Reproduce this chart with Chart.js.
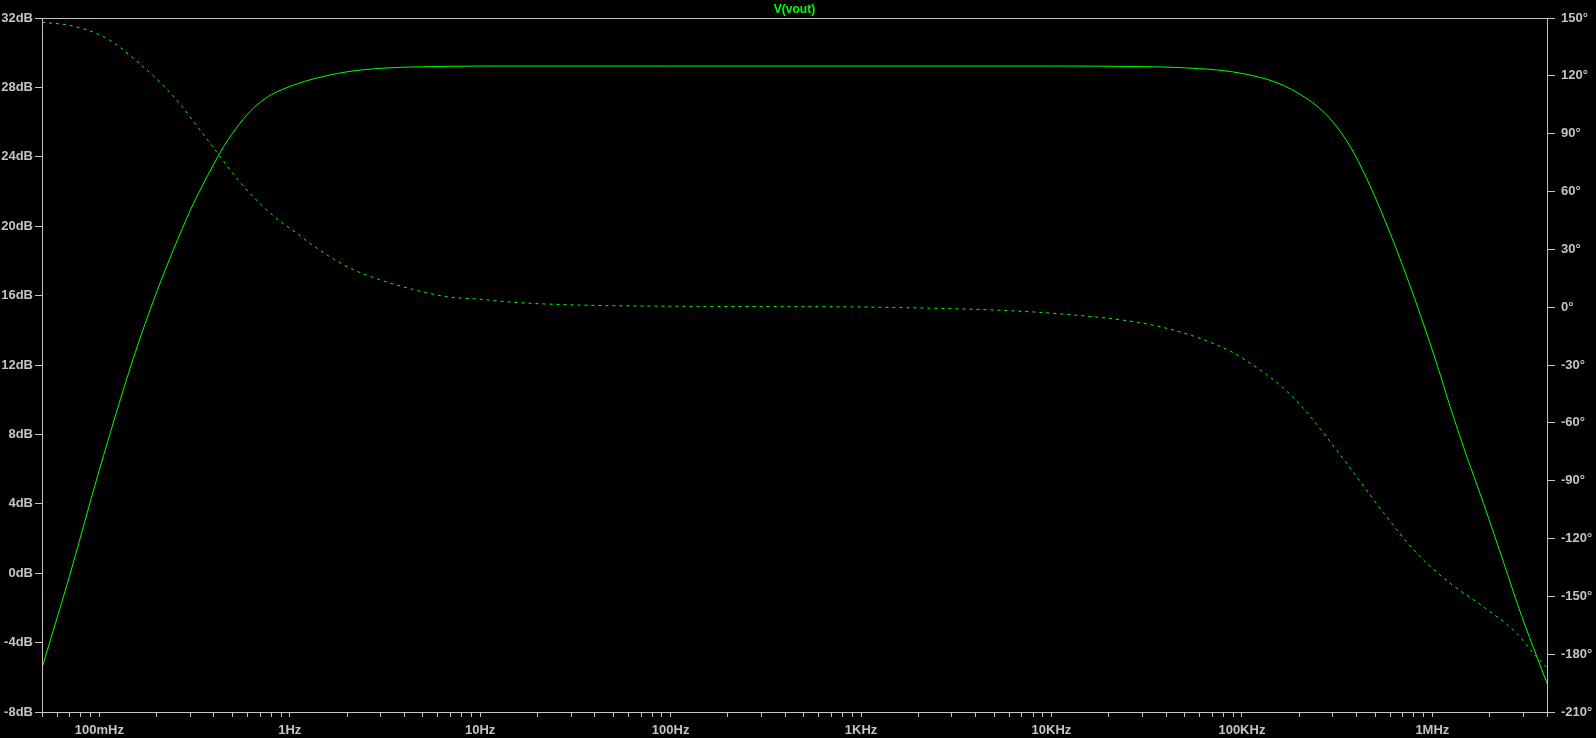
<!DOCTYPE html>
<html>
<head>
<meta charset="utf-8">
<script src="https://cdn.jsdelivr.net/npm/chart.js@4.4.0/dist/chart.umd.min.js"></script>
<style>
  html, body { margin: 0; padding: 0; background: #000; }
  #wrap { width: 1596px; height: 738px; position: relative; background: #000; }
</style>
</head>
<body>
<div id="wrap"><canvas id="bode"></canvas></div>
<script>
// magnitude trace (dB)
const magFreq = [0.05, 0.07, 0.1, 0.15, 0.2, 0.3, 0.35, 0.4, 0.45, 0.5, 0.6, 0.7, 0.8, 0.9, 1, 1.2, 1.5, 2, 3, 5, 10, 100, 1000, 10000, 30000, 60000, 90000, 135000, 165000, 202000, 248000, 301000, 371000, 450000, 600000, 812000, 1060000, 1240000, 1460000, 1860000, 2370000, 2950000, 3550000, 4000000];
const magDb = [-5.46, -0.1, 5.95, 12.3, 16.2, 20.9, 22.4, 23.6, 24.6, 25.35, 26.45, 27.15, 27.58, 27.85, 28.05, 28.35, 28.63, 28.9, 29.1, 29.19, 29.23, 29.23, 29.23, 29.23, 29.2, 29.08, 28.89, 28.47, 28.12, 27.6, 26.92, 26.0, 24.58, 22.8, 19.6, 15.75, 12.0, 9.6, 7.25, 4.0, 0.6, -2.5, -4.85, -6.35];

// phase trace (degrees)
const phaseFreq = [0.05, 0.072, 0.109, 0.162, 0.242, 0.365, 0.545, 0.81, 1.12, 1.31, 2, 3, 4.4, 6.6, 10, 15, 33, 100, 300, 1000, 2000, 3000, 5360, 12000, 26900, 40400, 60300, 90000, 115000, 135000, 165000, 202000, 248000, 300000, 371000, 553000, 826000, 1240000, 1860000, 2770000, 3390000, 4000000];
const phaseDeg = [147.8, 145.9, 139.5, 126.5, 110, 87.6, 65.1, 47.8, 37.5, 32.3, 21, 14.1, 9.3, 5.5, 4.1, 2.5, 1.1, 0.5, 0.3, 0.1, -0.4, -0.8, -1.6, -3.7, -7.5, -11, -16.2, -23.6, -30.2, -35, -42, -50.5, -61, -71.5, -83.5, -106.5, -127.5, -143.2, -155.5, -169.1, -179.5, -187];

// axis labels
const decadeVals = [0.1, 1, 10, 100, 1000, 10000, 100000, 1000000];
const decadeLabels = ['100mHz', '1Hz', '10Hz', '100Hz', '1KHz', '10KHz', '100KHz', '1MHz'];
const dbTicks = [-8, -4, 0, 4, 8, 12, 16, 20, 24, 28, 32];
const degTicks = [-210, -180, -150, -120, -90, -60, -30, 0, 30, 60, 90, 120, 150];

const AXIS = '#c4c4c4';
const TRACE = '#00ff00';
const tickFont = { family: 'Liberation Sans', size: 13, weight: 'bold' };

// every 1..9 x decade tick between 50mHz and 4MHz
const freqTicks = [];
for (let e = -2; e <= 6; e++) {
  for (let m = 1; m <= 9; m++) {
    const v = +(m * Math.pow(10, e)).toPrecision(3);
    if (v >= 0.05 && v <= 4e6) freqTicks.push(v);
  }
}
function freqLabel(v){
  const i = decadeVals.findIndex(d => Math.abs(d - v) / d < 1e-6);
  return i >= 0 ? decadeLabels[i] : '';
}

const frame = {
  id: 'frame',
  afterDraw(chart){
    const { ctx, chartArea: a } = chart;
    ctx.save();
    ctx.strokeStyle = AXIS;
    ctx.lineWidth = 1;
    ctx.strokeRect(Math.round(a.left) + .5, Math.round(a.top) + .5, Math.round(a.right - a.left), Math.round(a.bottom - a.top));
    ctx.restore();
  }
};

new Chart(document.getElementById('bode'), {
  type: 'line',
  data: {
    datasets: [
      {
        label: 'mag',
        data: magFreq.map((f, i) => ({ x: f, y: magDb[i] })),
        yAxisID: 'y',
        borderColor: TRACE,
        borderWidth: 1,
        pointRadius: 0,
        cubicInterpolationMode: 'monotone'
      },
      {
        label: 'phase',
        data: phaseFreq.map((f, i) => ({ x: f, y: phaseDeg[i] })),
        yAxisID: 'y2',
        borderColor: TRACE,
        borderWidth: 1,
        borderDash: [3, 4],
        pointRadius: 0,
        cubicInterpolationMode: 'monotone'
      }
    ]
  },
  options: {
    responsive: true,
    maintainAspectRatio: false,
    animation: false,
    layout: { padding: 0 },
    plugins: {
      legend: { display: false },
      tooltip: { enabled: false },
      title: {
        display: true,
        text: 'V(vout)',
        color: TRACE,
        fullSize: false,
        font: { family: 'Liberation Sans', size: 12, weight: 'bold' },
        padding: { top: 2, bottom: 1.6 }
      }
    },
    scales: {
      x: {
        type: 'logarithmic',
        min: 0.05,
        max: 4e6,
        afterBuildTicks: s => { s.ticks = freqTicks.map(v => ({ value: v })); },
        afterFit: s => { s.height = 26; },
        ticks: { color: AXIS, font: tickFont, autoSkip: false, maxRotation: 0, padding: 5.5, callback: v => freqLabel(v) },
        grid: { drawOnChartArea: false, color: AXIS, tickLength: 5 },
        border: { color: AXIS }
      },
      y: {
        position: 'left',
        min: -8,
        max: 32,
        afterBuildTicks: s => { s.ticks = dbTicks.map(v => ({ value: v })); },
        afterFit: s => { s.width = 42; },
        ticks: { color: AXIS, font: tickFont, padding: 2, callback: v => v + 'dB' },
        grid: { drawOnChartArea: false, color: AXIS, tickLength: 7 },
        border: { color: AXIS }
      },
      y2: {
        position: 'right',
        min: -210,
        max: 150,
        afterBuildTicks: s => { s.ticks = degTicks.map(v => ({ value: v })); },
        afterFit: s => { s.width = 49; },
        ticks: { color: AXIS, font: tickFont, padding: 6, callback: v => v + '°' },
        grid: { drawOnChartArea: false, color: AXIS, tickLength: 8 },
        border: { color: AXIS }
      }
    }
  },
  plugins: [frame]
});
</script>
</body>
</html>
